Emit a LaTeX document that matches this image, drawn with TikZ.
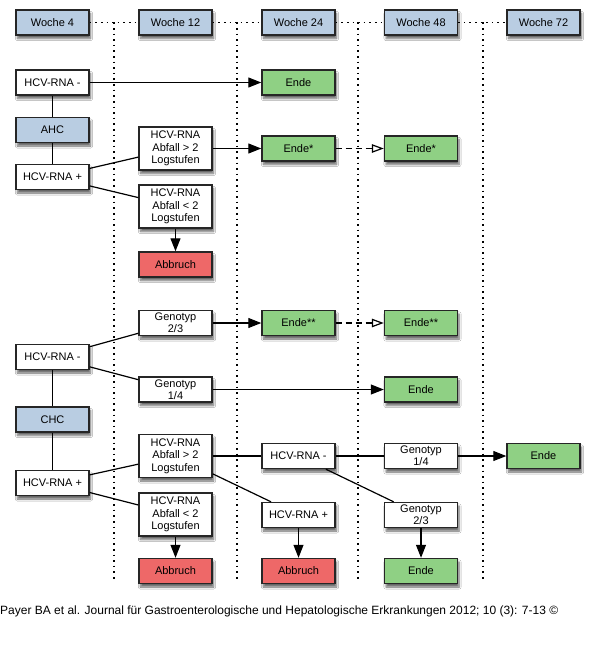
\documentclass[tikz,border=0pt]{standalone}
\usepackage{fontspec}
\setmainfont{Liberation Sans}
\usetikzlibrary{arrows.meta,shadows.blur}
\definecolor{hdr}{RGB}{185,205,226}
\definecolor{grn}{RGB}{143,208,132}
\definecolor{rd}{RGB}{238,104,104}
\begin{document}
\begin{tikzpicture}[x=1pt,y=-1pt,
 box/.style={draw=black!85, line width=1.4pt, fill=white, minimum width=73pt, minimum height=25pt, inner sep=1pt, align=center, font=\fontsize{11}{12.3}\selectfont, blur shadow={shadow xshift=1.5pt, shadow yshift=-3.5pt, shadow blur steps=6, shadow opacity=60}},
 tall/.style={box, minimum height=43pt},
 hdrbox/.style={box, fill=hdr},
 endbox/.style={box, fill=grn},
 stopbox/.style={box, fill=rd},
 conn/.style={line width=1.2pt},
 arr/.style={conn, -{Triangle[length=13pt,width=10pt]}},
 darr/.style={conn, dash pattern=on 6pt off 4pt, -{Triangle[open,length=12pt,width=8.5pt]}},
 gridline/.style={line width=1.3pt, dash pattern=on 1.6pt off 4pt}
]
\fill[white] (0,0) rectangle (595,661);
\useasboundingbox (0,0) rectangle (595,661);

% vertical dotted grid
\foreach \x/\n in {114/1,237/2,358/3,483/4}{
  \coordinate (v\n t) at (\x,22.5);
  \coordinate (v\n b) at (\x,580);
  \draw[gridline] (v\n t) -- (v\n b);
}

% headers
\node[hdrbox] (w4) at (52.5,22.5) {Woche 4};
\node[hdrbox] (w12) at (175.5,22.5) {Woche 12};
\node[hdrbox] (w24) at (298.5,22.5) {Woche 24};
\node[hdrbox] (w48) at (421,22.5) {Woche 48};
\node[hdrbox] (w72) at (543.5,22.5) {Woche 72};
\draw[gridline] (w4) -- (w12);
\draw[gridline] (w12) -- (w24);
\draw[gridline] (w24) -- (w48);
\draw[gridline] (w48) -- (w72);

% block 1 (AHC)
\node[box] (r1) at (52.5,82.5) {HCV-RNA -};
\node[endbox] (e1) at (298.5,82.5) {Ende};
\node[hdrbox] (ahc) at (52.5,130) {AHC};
\node[box] (hp1) at (52.5,177) {HCV-RNA +};
\node[tall] (a1) at (175.5,148.5) {HCV-RNA\\Abfall > 2\\Logstufen};
\node[endbox] (es1) at (298.5,148.5) {Ende*};
\node[endbox] (es2) at (421,148.5) {Ende*};
\node[tall] (b1) at (175.5,206.5) {HCV-RNA\\Abfall < 2\\Logstufen};
\node[stopbox] (ab1) at (175.5,264.5) {Abbruch};

% block 2 (CHC)
\node[box] (g23) at (175.5,323) {Genotyp\\2/3};
\node[endbox] (ess1) at (298.5,323) {Ende**};
\node[endbox] (ess2) at (421,323) {Ende**};
\node[box] (rm2) at (52.5,357) {HCV-RNA -};
\node[box] (g14) at (175.5,389.5) {Genotyp\\1/4};
\node[endbox] (e2) at (421,389.5) {Ende};
\node[hdrbox] (chc) at (52.5,419.5) {CHC};
\node[tall] (a2) at (175.5,456) {HCV-RNA\\Abfall > 2\\Logstufen};
\node[box] (rm3) at (298.5,456) {HCV-RNA -};
\node[box] (g14b) at (421,456) {Genotyp\\1/4};
\node[endbox] (e3) at (543.5,456) {Ende};
\node[box] (hp2) at (52.5,483) {HCV-RNA +};
\node[tall] (b2) at (175.5,514.5) {HCV-RNA\\Abfall < 2\\Logstufen};
\node[box] (hp3) at (298.5,515) {HCV-RNA +};
\node[box] (g23b) at (421,515) {Genotyp\\2/3};
\node[stopbox] (ab2) at (175.5,571) {Abbruch};
\node[stopbox] (ab3) at (298.5,571) {Abbruch};
\node[endbox] (e4) at (421,571) {Ende};

% connectors block 1
\draw[arr] (r1) -- (e1);
\draw[conn] (r1) -- (ahc);
\draw[conn] (ahc) -- (hp1);
\draw[conn] (hp1) -- (a1);
\draw[conn] (hp1) -- (b1);
\draw[arr] (a1) -- (es1);
\draw[darr] (es1) -- (es2);
\draw[arr] (b1) -- (ab1);

% connectors block 2
\draw[conn] (rm2) -- (g23);
\draw[conn] (rm2) -- (g14);
\draw[arr] (g23) -- (ess1);
\draw[darr] (ess1) -- (ess2);
\draw[arr] (g14) -- (e2);
\draw[conn] (rm2) -- (chc);
\draw[conn] (chc) -- (hp2);
\draw[conn] (hp2) -- (a2);
\draw[conn] (hp2) -- (b2);
\draw[conn] (a2) -- (rm3);
\draw[conn] (a2) -- (hp3);
\draw[conn] (rm3) -- (g14b);
\draw[conn] (rm3) -- (g23b);
\draw[arr] (g14b) -- (e3);
\draw[arr] (g23b) -- (e4);
\draw[arr] (b2) -- (ab2);
\draw[arr] (hp3) -- (ab3);

% footer
\node[anchor=west, inner sep=0pt, font=\fontsize{12}{14}\selectfont] (foot) at (0,611) {Payer BA et al. Journal für Gastroenterologische und Hepatologische Erkrankungen 2012; 10 (3): 7-13 ©};
\end{tikzpicture}
\end{document}
